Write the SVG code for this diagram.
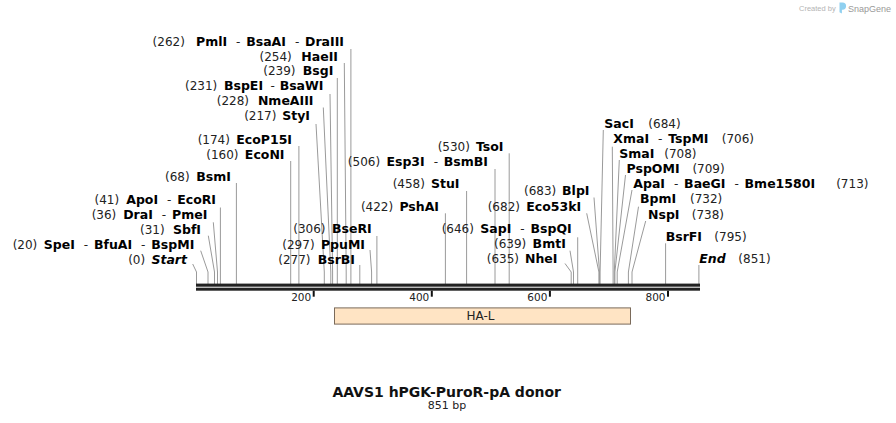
<svg xmlns="http://www.w3.org/2000/svg" width="896" height="423" viewBox="0 0 896 423">
<style>
.lab{font-family:"DejaVu Sans",Verdana,sans-serif;font-size:12px;fill:#222}
.b{font-weight:bold;fill:#000;font-size:12.5px}
.i{font-style:italic}
.cut{fill:none;stroke:#9a9a9a;stroke-width:1}
.bb{fill:#222}
.tick{fill:#111}
.sc{font-family:"DejaVu Sans",Verdana,sans-serif;font-size:10.5px;fill:#222;text-anchor:end}
.feat{fill:#ffe4c4;stroke:#7a6a5a;stroke-width:1}
.ft{font-family:"DejaVu Sans",Verdana,sans-serif;font-size:12px;fill:#222;text-anchor:middle}
.title{font-family:"DejaVu Sans",Verdana,sans-serif;font-size:14px;font-weight:bold;fill:#111;text-anchor:middle}
.sub{font-family:"DejaVu Sans",Verdana,sans-serif;font-size:11px;fill:#222;text-anchor:middle}
</style>
<rect width="896" height="423" fill="#fff"/>
<g id="watermark">
<text x="799" y="10.5" style="font-family:'Liberation Sans',Arial,sans-serif;font-size:7.5px;fill:#b4b4b4">Created by</text>
<path d="M839.5,2.5 h3 a3.6,3.6 0 0 1 0,7.2 h-0.6 v3.8 l-2.4,-1.2 z" fill="#8fd0f0"/>
<text x="848" y="11.5" style="font-family:'Liberation Sans',Arial,sans-serif;font-size:9px;fill:#999">SnapGene</text>
</g>
<g id="connectors">
<polyline class="cut" points="350.9,49 350.9,284"/>
<polyline class="cut" points="344.3,63 346.2,272 346.2,284"/>
<polyline class="cut" points="337.3,78 337.3,284"/>
<polyline class="cut" points="330,94 332.6,272 332.6,284"/>
<polyline class="cut" points="323.3,107.5 330.8,272 330.8,284"/>
<polyline class="cut" points="316,124 324.3,272 324.3,284"/>
<polyline class="cut" points="298.9,146 298.9,284"/>
<polyline class="cut" points="290.7,161 290.7,284"/>
<polyline class="cut" points="236.4,183 236.4,284"/>
<polyline class="cut" points="220.4,207.5 220.4,284"/>
<polyline class="cut" points="213.3,222.3 217.5,272 217.5,284"/>
<polyline class="cut" points="208.3,235.7 214.5,272 214.5,284"/>
<polyline class="cut" points="200.7,250.7 208,272 208,284"/>
<polyline class="cut" points="192.7,264 196.5,272 196.5,284"/>
<polyline class="cut" points="376.9,236 376.9,284"/>
<polyline class="cut" points="370,250 371.6,272 371.6,284"/>
<polyline class="cut" points="359.8,265 359.8,284"/>
<polyline class="cut" points="509.2,153.3 509.2,284"/>
<polyline class="cut" points="495,169 495,284"/>
<polyline class="cut" points="466.6,191 466.6,284"/>
<polyline class="cut" points="445.4,213.3 445.4,284"/>
<polyline class="cut" points="577.7,237.3 577.7,284"/>
<polyline class="cut" points="570,250.7 573.5,272 573.5,284"/>
<polyline class="cut" points="565,263.5 571.2,272 571.2,284"/>
<polyline class="cut" points="594,197.5 599.5,272 599.5,284"/>
<polyline class="cut" points="586.7,213.3 598.9,272 598.9,284"/>
<polyline class="cut" points="603.3,130 600.1,272 600.1,284"/>
<polyline class="cut" points="612.3,146.7 613.1,272 613.1,284"/>
<polyline class="cut" points="619.3,160 614.3,272 614.3,284"/>
<polyline class="cut" points="625.5,175 614.9,272 614.9,284"/>
<polyline class="cut" points="632,190 617.2,272 617.2,284"/>
<polyline class="cut" points="638.5,206.7 628.4,272 628.4,284"/>
<polyline class="cut" points="645.7,221 632,272 632,284"/>
<polyline class="cut" points="665.6,243.3 665.6,284"/>
<polyline class="cut" points="698.9,265 698.9,284"/>
</g>
<g id="backbone">
<rect class="bb" x="196" y="283.6" width="504" height="3.1"/>
<rect class="bb" x="196" y="287.7" width="504" height="3"/>
</g>
<g id="ruler">
<rect class="tick" x="312.7" y="290.7" width="2" height="6"/>
<rect class="tick" x="430.8" y="290.7" width="2" height="6"/>
<rect class="tick" x="548.9" y="290.7" width="2" height="6"/>
<rect class="tick" x="667" y="290.7" width="2" height="6"/>
<text class="sc" x="311.2" y="300.5">200</text>
<text class="sc" x="429.3" y="300.5">400</text>
<text class="sc" x="547.4" y="300.5">600</text>
<text class="sc" x="665.5" y="300.5">800</text>
</g>
<g id="feature-HA-L">
<rect class="feat" x="334.5" y="307.9" width="296" height="16.2"/>
<text class="ft" x="480.5" y="320.3">HA-L</text>
</g>
<g id="site-262"><text class="lab" x="344" y="46" text-anchor="end">(262) <tspan class="b" dx="7.3">PmlI</tspan> <tspan dx="5.1">-</tspan> <tspan class="b" dx="2">BsaAI</tspan> <tspan dx="5.1">-</tspan> <tspan class="b" dx="2">DraIII</tspan></text></g>
<g id="site-254"><text class="lab" x="338" y="60.5" text-anchor="end">(254) <tspan class="b" dx="5.7">HaeII</tspan></text></g>
<g id="site-239"><text class="lab" x="333.3" y="75" text-anchor="end">(239) <tspan class="b" dx="3.4">BsgI</tspan></text></g>
<g id="site-231"><text class="lab" x="323.5" y="90" text-anchor="end">(231) <tspan class="b" dx="2.9">BspEI</tspan> <tspan dx="3.6">-</tspan> <tspan class="b" dx="1">BsaWI</tspan></text></g>
<g id="site-228"><text class="lab" x="313.5" y="105" text-anchor="end">(228) <tspan class="b" dx="5.1">NmeAIII</tspan></text></g>
<g id="site-217"><text class="lab" x="310" y="120" text-anchor="end">(217) <tspan class="b" dx="2">StyI</tspan></text></g>
<g id="site-174"><text class="lab" x="292" y="144" text-anchor="end">(174) <tspan class="b" dx="2.5">EcoP15I</tspan></text></g>
<g id="site-160"><text class="lab" x="284.5" y="159" text-anchor="end">(160) <tspan class="b" dx="2.5">EcoNI</tspan></text></g>
<g id="site-68"><text class="lab" x="231" y="180.7" text-anchor="end">(68) <tspan class="b" dx="2.9">BsmI</tspan></text></g>
<g id="site-41"><text class="lab" x="216" y="203.7" text-anchor="end">(41) <tspan class="b" dx="3.3">ApoI</tspan> <tspan dx="5.1">-</tspan> <tspan class="b" dx="2">EcoRI</tspan></text></g>
<g id="site-36"><text class="lab" x="207.3" y="218.7" text-anchor="end">(36) <tspan class="b" dx="3.1">DraI</tspan> <tspan dx="5.1">-</tspan> <tspan class="b" dx="2">PmeI</tspan></text></g>
<g id="site-31"><text class="lab" x="201" y="233.7" text-anchor="end">(31) <tspan class="b" dx="4.5">SbfI</tspan></text></g>
<g id="site-20"><text class="lab" x="194.3" y="248.7" text-anchor="end">(20) <tspan class="b" dx="2.7">SpeI</tspan> <tspan dx="5.1">-</tspan> <tspan class="b" dx="2">BfuAI</tspan> <tspan dx="5.1">-</tspan> <tspan class="b" dx="2">BspMI</tspan></text></g>
<g id="site-0"><text class="lab" x="187" y="263.7" text-anchor="end">(0) <tspan class="b i" dx="2.5">Start</tspan></text></g>
<g id="site-306"><text class="lab" x="371.7" y="233.3" text-anchor="end">(306) <tspan class="b" dx="2.6">BseRI</tspan></text></g>
<g id="site-297"><text class="lab" x="365" y="248.7" text-anchor="end">(297) <tspan class="b" dx="2.5">PpuMI</tspan></text></g>
<g id="site-277"><text class="lab" x="355" y="263.7" text-anchor="end">(277) <tspan class="b" dx="3.3">BsrBI</tspan></text></g>
<g id="site-530"><text class="lab" x="503.5" y="150.7" text-anchor="end">(530) <tspan class="b" dx="2.2">TsoI</tspan></text></g>
<g id="site-506"><text class="lab" x="488" y="166" text-anchor="end">(506) <tspan class="b" dx="2.5">Esp3I</tspan> <tspan dx="5.1">-</tspan> <tspan class="b" dx="2">BsmBI</tspan></text></g>
<g id="site-458"><text class="lab" x="459.5" y="188.3" text-anchor="end">(458) <tspan class="b" dx="2.2">StuI</tspan></text></g>
<g id="site-422"><text class="lab" x="439" y="210.7" text-anchor="end">(422) <tspan class="b" dx="2.4">PshAI</tspan></text></g>
<g id="site-646"><text class="lab" x="571.7" y="233.3" text-anchor="end">(646) <tspan class="b" dx="2.6">SapI</tspan> <tspan dx="5.1">-</tspan> <tspan class="b" dx="2">BspQI</tspan></text></g>
<g id="site-639"><text class="lab" x="565.8" y="248.3" text-anchor="end">(639) <tspan class="b" dx="2.5">BmtI</tspan></text></g>
<g id="site-635"><text class="lab" x="557.5" y="263.3" text-anchor="end">(635) <tspan class="b" dx="2.2">NheI</tspan></text></g>
<g id="site-683"><text class="lab" x="589.5" y="195.3" text-anchor="end">(683) <tspan class="b" dx="2">BlpI</tspan></text></g>
<g id="site-682"><text class="lab" x="581.2" y="210.7" text-anchor="end">(682) <tspan class="b" dx="2.5">Eco53kI</tspan></text></g>
<g id="site-684"><text class="lab" x="604.3" y="128.3"><tspan class="b">SacI</tspan> <tspan dx="10.7">(684)</tspan></text></g>
<g id="site-706"><text class="lab" x="613.3" y="143.3"><tspan class="b">XmaI</tspan> <tspan dx="5.1">-</tspan> <tspan class="b" dx="2">TspMI</tspan> <tspan dx="9.4">(706)</tspan></text></g>
<g id="site-708"><text class="lab" x="619.3" y="157.7"><tspan class="b">SmaI</tspan> <tspan dx="6">(708)</tspan></text></g>
<g id="site-709"><text class="lab" x="626.5" y="172.7"><tspan class="b">PspOMI</tspan> <tspan dx="9">(709)</tspan></text></g>
<g id="site-713"><text class="lab" x="633.3" y="188.3"><tspan class="b">ApaI</tspan> <tspan dx="5.1">-</tspan> <tspan class="b" dx="2">BaeGI</tspan> <tspan dx="5.1">-</tspan> <tspan class="b" dx="2">Bme1580I</tspan> <tspan dx="17.3">(713)</tspan></text></g>
<g id="site-732"><text class="lab" x="640" y="203.3"><tspan class="b">BpmI</tspan> <tspan dx="10">(732)</tspan></text></g>
<g id="site-738"><text class="lab" x="648" y="219"><tspan class="b">NspI</tspan> <tspan dx="8.4">(738)</tspan></text></g>
<g id="site-795"><text class="lab" x="665.7" y="241"><tspan class="b">BsrFI</tspan> <tspan dx="8.5">(795)</tspan></text></g>
<g id="site-851"><text class="lab" x="699.3" y="263.3"><tspan class="b i">End</tspan> <tspan dx="8.8">(851)</tspan></text></g>
<g id="title">
<text class="title" x="446.7" y="396.7">AAVS1 hPGK-PuroR-pA donor</text>
<text class="sub" x="447" y="409.3">851 bp</text>
</g>
</svg>
